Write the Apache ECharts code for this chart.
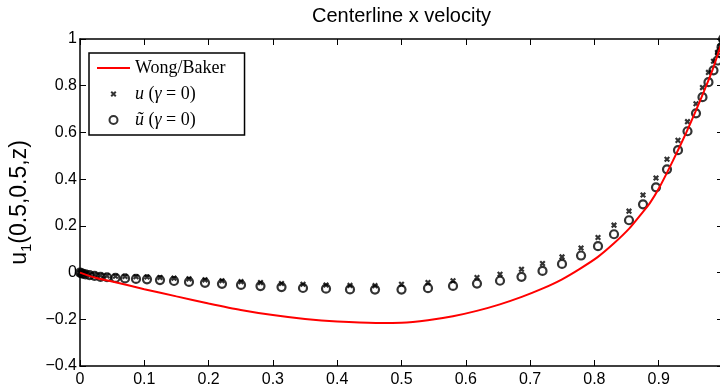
<!DOCTYPE html>
<html>
<head>
<meta charset="utf-8">
<script src="https://cdn.jsdelivr.net/npm/echarts@6/dist/echarts.min.js"></script>
<style>
html, body { margin: 0; padding: 0; background: #fff; }
#chart { width: 720px; height: 392px; }
</style>
</head>
<body>
<div id="chart"></div>
<script>
// sample positions along the centerline (z)
var zGrid = [0, 0.0023, 0.0047, 0.0086, 0.0148, 0.0226, 0.0319, 0.042, 0.0552, 0.070,
  0.0871, 0.1042, 0.1244, 0.1462, 0.1695, 0.1944, 0.2208, 0.2504, 0.2807, 0.3134,
  0.3468, 0.3826, 0.4199, 0.4588, 0.5, 0.5412, 0.5801, 0.6174, 0.6532, 0.6866,
  0.7193, 0.7496, 0.7792, 0.8056, 0.8305, 0.8538, 0.8756, 0.8958, 0.9129, 0.93,
  0.9448, 0.958, 0.9681, 0.9774, 0.9852, 0.9914, 0.9953, 0.9977, 1];

// u (gamma = 0), the x markers
var uVals = [0, -0.002, -0.004, -0.006, -0.008, -0.010, -0.013, -0.014, -0.016, -0.017,
  -0.018, -0.019, -0.021, -0.024, -0.027, -0.031, -0.035, -0.039, -0.043, -0.047,
  -0.050, -0.053, -0.055, -0.056, -0.050, -0.043, -0.035, -0.021, -0.007, 0.014,
  0.039, 0.067, 0.105, 0.150, 0.203, 0.263, 0.332, 0.405, 0.485, 0.566,
  0.646, 0.723, 0.792, 0.857, 0.905, 0.942, 0.968, 0.985, 1];

// u tilde (gamma = 0), the circles
var uTildeVals = [0, -0.003, -0.005, -0.008, -0.011, -0.014, -0.018, -0.020, -0.023, -0.025,
  -0.027, -0.029, -0.032, -0.036, -0.040, -0.044, -0.048, -0.053, -0.058, -0.062,
  -0.066, -0.069, -0.072, -0.073, -0.073, -0.067, -0.057, -0.047, -0.035, -0.018,
  0.007, 0.037, 0.073, 0.113, 0.164, 0.224, 0.292, 0.365, 0.442, 0.524,
  0.605, 0.682, 0.751, 0.815, 0.866, 0.908, 0.94, 0.965, 1];

// Wong/Baker reference curve
var refZ = [0, 0.024, 0.05, 0.1, 0.15, 0.2, 0.25, 0.3, 0.35, 0.4, 0.46, 0.5, 0.541, 0.58,
  0.617, 0.653, 0.687, 0.719, 0.749, 0.778, 0.805, 0.83, 0.854, 0.875, 0.886, 0.901,
  0.922, 0.943, 0.958, 0.974, 0.984, 1.0];
var refU = [0, -0.022, -0.038, -0.071, -0.102, -0.132, -0.16, -0.182, -0.199, -0.21, -0.216,
  -0.215, -0.204, -0.187, -0.164, -0.136, -0.104, -0.069, -0.030, 0.017, 0.066, 0.124,
  0.188, 0.258, 0.296, 0.364, 0.478, 0.6, 0.694, 0.8, 0.87, 1.0];

var seriesNames = ['Wong/Baker', 'u (γ = 0)', 'ũ (γ = 0)'];
var chartTitle = 'Centerline x velocity';

function pairs(xs, ys) {
  return xs.map(function (x, i) { return [x, ys[i]]; });
}

function tickFmt(v) {
  var s = String(+v.toFixed(1));
  return s.replace('-', '\u2212');
}

var sans = 'Liberation Sans';
var serif = 'Liberation Serif';
var crossPath = 'path://M-2,-2 M1,1L9,9M9,1L1,9 M12,12';

var frameAxis = {
  min: 0, max: 1, interval: 0.1,
  axisLine: { onZero: false, lineStyle: { color: '#000', width: 1.5 } },
  axisTick: { inside: true, length: 6, lineStyle: { color: '#000', width: 1 } },
  splitLine: { show: false }
};

var myChart = echarts.init(document.getElementById('chart'));
myChart.setOption({
  animation: false,
  backgroundColor: '#fff',
  title: {
    text: chartTitle,
    left: 307, top: 1,
    textStyle: { fontFamily: sans, fontSize: 20, fontWeight: 'normal', color: '#000' }
  },
  grid: { left: 80, top: 39, right: -3, bottom: 26, containLabel: false, outerBoundsMode: 'none' },
  legend: {
    orient: 'vertical',
    left: 89, top: 53,
    padding: [6, 19, 6, 7],
    itemGap: 8,
    itemWidth: 33, itemHeight: 8,
    backgroundColor: '#fff',
    borderColor: '#000', borderWidth: 1.5, borderRadius: 0,
    data: [
      { name: seriesNames[0], itemStyle: { opacity: 0 } },
      { name: seriesNames[1] },
      { name: seriesNames[2] }
    ],
    formatter: function (name) {
      if (name === seriesNames[0]) return '{r|' + name + '}';
      var head = name === seriesNames[1] ? 'u' : 'ũ';
      return '{i|' + head + '}{r| (}{i|γ}{r| = 0)}';
    },
    textStyle: {
      fontFamily: serif, fontSize: 18, color: '#000', lineHeight: 18,
      rich: {
        r: { fontFamily: serif, fontSize: 18, lineHeight: 18 },
        i: { fontFamily: serif, fontSize: 18, fontStyle: 'italic', lineHeight: 18 }
      }
    }
  },
  xAxis: [
    Object.assign({}, frameAxis, {
      type: 'value', position: 'bottom',
      axisLabel: {
        margin: 6, fontFamily: sans, fontSize: 16, color: '#000',
        formatter: function (v) { return v >= 1 ? '' : tickFmt(v); }
      }
    }),
    Object.assign({}, frameAxis, {
      type: 'value', position: 'top', axisLabel: { show: false }
    })
  ],
  yAxis: [
    Object.assign({}, frameAxis, {
      type: 'value', position: 'left', min: -0.4, max: 1, interval: 0.2,
      axisLabel: { margin: 3, fontFamily: sans, fontSize: 16, color: '#000', formatter: tickFmt },
      name: '{a|u}{s|1}{a|(0.5,0.5,z)}',
      nameLocation: 'middle', nameGap: 42, nameRotate: 90,
      nameTextStyle: {
        color: '#000',
        rich: {
          a: { fontFamily: sans, fontSize: 23, lineHeight: 30, color: '#000' },
          s: { fontFamily: sans, fontSize: 15, lineHeight: 16, verticalAlign: 'bottom', color: '#000' }
        }
      }
    }),
    Object.assign({}, frameAxis, {
      type: 'value', position: 'right', min: -0.4, max: 1, interval: 0.2,
      axisLabel: { show: false }
    })
  ],
  series: [
    {
      name: seriesNames[0], type: 'line',
      data: pairs(refZ, refU),
      smooth: 0.2, symbol: 'none',
      lineStyle: { color: '#ff0000', width: 2 },
      itemStyle: { color: '#ff0000' }
    },
    {
      name: seriesNames[1], type: 'scatter',
      data: pairs(zGrid, uVals),
      symbol: crossPath, symbolSize: 8,
      itemStyle: { color: 'none', borderColor: '#000', borderWidth: 2.2 }
    },
    {
      name: seriesNames[2], type: 'scatter',
      data: pairs(zGrid, uTildeVals),
      symbol: 'circle', symbolSize: 8,
      itemStyle: { color: 'none', borderColor: '#000', borderWidth: 2.2 }
    }
  ]
});
</script>
</body>
</html>
